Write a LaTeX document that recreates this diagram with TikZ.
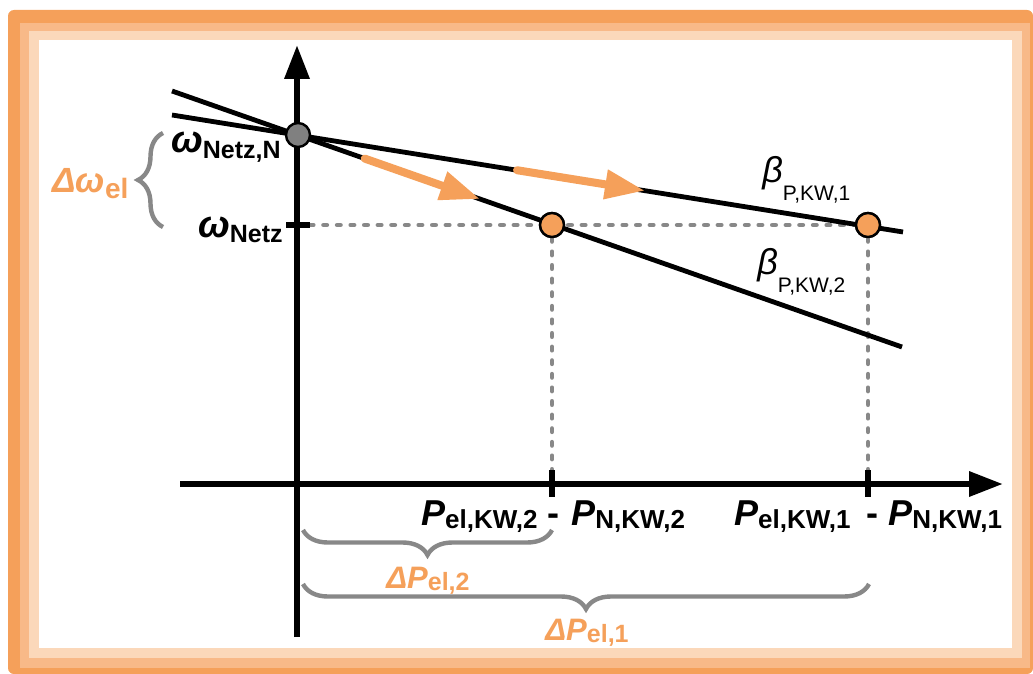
\documentclass[tikz,border=0pt]{standalone}
\usepackage{fontspec}
\setmainfont{Liberation Sans}
\usepackage{tikz}
\usetikzlibrary{arrows.meta,calc,decorations.pathreplacing,positioning}
\usepackage{xcolor}
\definecolor{droop}{RGB}{245,160,90}
\definecolor{framemid}{RGB}{248,185,136}
\definecolor{framelight}{RGB}{251,216,186}
\definecolor{helpgray}{RGB}{136,136,136}
\definecolor{pointgray}{RGB}{128,128,128}
\newcommand{\bigvar}[2]{{\fontsize{#1}{#1}\selectfont\bfseries\itshape #2}}
\newcommand{\lowsub}[3]{\raisebox{-#1}{\fontsize{#2}{#2}\selectfont\bfseries #3}}
\newcommand{\betasym}[1]{{\fontsize{18}{18}\selectfont\itshape β}\raisebox{-9pt}{\fontsize{10.5}{10.5}\selectfont #1}}

\begin{document}
\begin{tikzpicture}[x=0.5pt,y=-0.5pt,every node/.style={inner sep=0pt},
  axis/.style={line width=3.2pt,-{Triangle[length=17pt,width=12pt]}},
  tick/.style={line width=2.6pt},
  droopline/.style={line width=2.4pt},
  helper/.style={helpgray,line width=2.4pt,dash pattern=on 1.6pt off 5.2pt,line cap=round},
  shiftarrow/.style={droop,line width=4pt,line cap=round,-{Triangle[length=20pt,width=14pt]}},
  opoint/.style={circle,draw,line width=1.2pt,fill=droop,minimum size=12pt},
  gbrace/.style={decorate,decoration={brace,amplitude=12.5pt},helpgray,line width=2.2pt}]
\useasboundingbox (0,0) rectangle (1033,674);
\fill[droop,rounded corners=3pt] (8,10) rectangle (1033,674);
\fill[framemid] (20,23) rectangle (1030,668);
\fill[framelight] (29,31) rectangle (1022,658);
\fill[white] (39,40) rectangle (1012,648);

\coordinate (xs) at (180,484);
\coordinate (xe) at (1003,484);
\coordinate (ys) at (297,637);
\coordinate (ye) at (297,45);
\coordinate (b2s) at (172,91);
\coordinate (b2e) at (902,347);
\coordinate (b1s) at (172,115);
\coordinate (b1e) at (903,232);
\coordinate (twl) at (286,225);
\coordinate (twr) at (310,225);
\coordinate (t2a) at (552,470);
\coordinate (t2b) at (552,497);
\coordinate (t1a) at (868,470);
\coordinate (t1b) at (868,497);

\node[opoint] (A2) at (552,225) {};
\node[opoint] (A1) at (868,225) {};
\draw[helper] (twr) -- (A1);
\draw[helper] (A2) -- (t2a);
\draw[helper] (A1) -- (t1a);

\draw[axis] (xs) -- (xe);
\draw[axis] (ys) -- (ye);
\draw[tick] (twl) -- (twr);
\draw[tick] (t2a) -- (t2b);
\draw[tick] (t1a) -- (t1b);

\draw[droopline] (b2s) -- (b2e);
\draw[droopline] (b1s) -- (b1e);
\draw[shiftarrow] ($(b2s)!0.264!(b2e)$) -- ($(b2s)!0.422!(b2e)$);
\draw[shiftarrow] ($(b1s)!0.472!(b1e)$) -- ($(b1s)!0.647!(b1e)$);

\node[circle,draw,line width=1.2pt,fill=pointgray,minimum size=12pt] (N0) at (298,135) {};
\node[opoint] at (A2) {};
\node[opoint] at (A1) {};

\node[anchor=base east] (wN) at (281,153) {\bigvar{19}{ω}\lowsub{2.5pt}{12.5}{Netz,N}};
\node[anchor=base east] (w) at (283,237) {\bigvar{19}{ω}\lowsub{2.5pt}{12.5}{Netz}};
\node[anchor=base west,text=droop] (dw) at (52,192) {\bigvar{17.5}{Δω}\lowsub{3pt}{14}{el}};
\node[anchor=base west] (beta1) at (762,183) {\betasym{P,KW,1}};
\node[anchor=base west] (beta2) at (757,274) {\betasym{P,KW,2}};

\node[anchor=base east] (Pel2) at (538,525) {\bigvar{18}{P}\lowsub{1.5pt}{13}{el,KW,2}};
\node[anchor=base] (m2) at (553,525) {\bigvar{18}{\upshape -}};
\node[anchor=base west] (PN2) at (571,525) {\bigvar{18}{P}\lowsub{1.5pt}{13}{N,KW,2}};
\node[anchor=base east] (Pel1) at (851,525) {\bigvar{18}{P}\lowsub{1.5pt}{13}{el,KW,1}};
\node[anchor=base] (m1) at (872,525) {\bigvar{18}{\upshape -}};
\node[anchor=base west] (PN1) at (888,525) {\bigvar{18}{P}\lowsub{1.5pt}{13}{N,KW,1}};

\coordinate (bwt) at (163,133);
\coordinate (bwb) at (163,227);
\coordinate (bp2l) at (303,530);
\coordinate (bp2r) at (552,530);
\coordinate (bp1l) at (303,584);
\coordinate (bp1r) at (869,584);
\draw[gbrace] (bwb) -- (bwt);
\draw[gbrace] (bp2r) -- (bp2l);
\draw[gbrace] (bp1r) -- (bp1l);
\node[anchor=base,text=droop] (dP2) at (428,588) {\bigvar{15.5}{ΔP}\lowsub{1pt}{12.5}{el,2}};
\node[anchor=base,text=droop] (dP1) at (587,640) {\bigvar{15.5}{ΔP}\lowsub{1pt}{12.5}{el,1}};
\end{tikzpicture}
\end{document}
